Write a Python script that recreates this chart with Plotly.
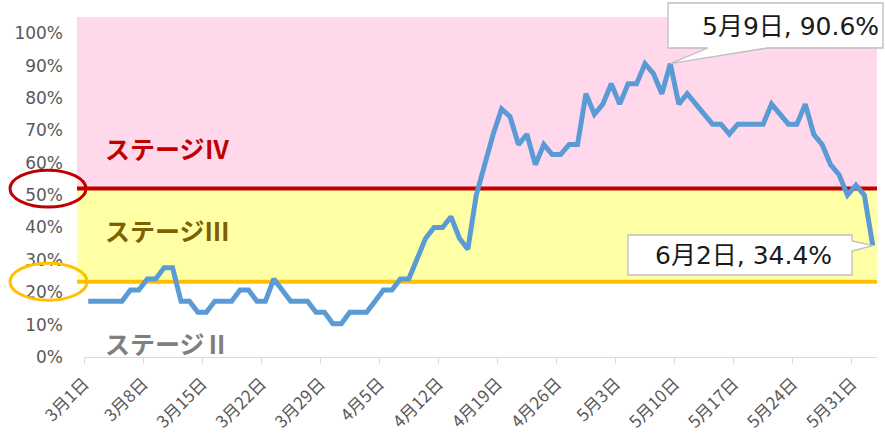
import pandas as pd
import plotly.graph_objects as go

# ---- data -------------------------------------------------------------
start_date = "2021-03-01"
end_date = "2021-06-02"
occupancy_pct = [
    17.2, 17.2, 17.2, 17.2, 17.2, 20.7, 20.7, 24.1, 24.1, 27.6,
    27.6, 17.2, 17.2, 13.8, 13.8, 17.2, 17.2, 17.2, 20.7, 20.7,
    17.2, 17.2, 24.1, 20.7, 17.2, 17.2, 17.2, 13.8, 13.8, 10.3,
    10.3, 13.8, 13.8, 13.8, 17.2, 20.7, 20.7, 24.1, 24.1, 30.0,
    36.7, 40.0, 40.0, 43.3, 36.7, 33.3, 50.0, 59.4, 68.8, 76.6,
    74.2, 65.6, 68.8, 59.4, 65.6, 62.5, 62.5, 65.6, 65.6, 81.3,
    75.0, 78.1, 84.4, 78.1, 84.4, 84.4, 90.6, 87.5, 81.3, 90.6,
    78.1, 81.3, 78.1, 75.0, 71.9, 71.9, 68.8, 71.9, 71.9, 71.9,
    71.9, 78.1, 75.0, 71.9, 71.9, 78.1, 68.8, 65.6, 59.4, 56.3,
    50.0, 53.1, 50.0, 34.4,
]
stage4_threshold = 0.52
stage3_threshold = 0.2326
stage_labels = ["ステージⅣ", "ステージⅢ", "ステージⅡ"]
stage_label_y = [0.647, 0.391, 0.042]
stage_colors = ["#C00000", "#7F6000", "#7F7F7F"]
callout_dates = ["2021-05-09", "2021-06-02"]

dates = pd.date_range(start_date, end_date, freq="D")
values = [v / 100 for v in occupancy_pct]
x_mid = dates + pd.Timedelta(hours=12)
tick_dates = pd.date_range(start_date, "2021-05-31", freq="7D")
tick_text = [f"{d.month}月{d.day}日" for d in tick_dates]

x_start = pd.Timestamp(start_date)
x_end = pd.Timestamp(end_date) + pd.Timedelta(days=1)
Y_MAX = 1.05

FONT = "DejaVu Sans, Noto Sans CJK JP, sans-serif"
JFONT = "Noto Sans CJK JP, sans-serif"

W, H = 885, 436
ML, MR, MT, MB = 84, 8, 17, 79
PW, PH = W - ML - MR, H - MT - MB


def px_x(p):
    return (p - ML) / PW


def px_y(p):
    return (H - MB - p) / PH


def data_to_paper(ts, v):
    fx = (ts - x_start) / (x_end - x_start)
    return fx, v / Y_MAX


fig = go.Figure()
fig.add_trace(go.Scatter(
    x=x_mid, y=values, mode="lines",
    line=dict(color="#5B9BD5", width=5),
    hoverinfo="skip", showlegend=False,
))

shapes = []
left_ext = px_x(77)
# background bands
shapes.append(dict(type="rect", xref="paper", yref="y", x0=left_ext, x1=1.0,
                   y0=stage4_threshold, y1=Y_MAX, fillcolor="#FFD9EB",
                   line=dict(width=0), layer="below"))
shapes.append(dict(type="rect", xref="paper", yref="y", x0=left_ext, x1=1.0,
                   y0=stage3_threshold, y1=stage4_threshold, fillcolor="#FFFFA6",
                   line=dict(width=0), layer="below"))
# threshold lines
shapes.append(dict(type="line", xref="paper", yref="y", x0=left_ext, x1=1.0,
                   y0=stage4_threshold, y1=stage4_threshold,
                   line=dict(color="#C00000", width=4), layer="below"))
shapes.append(dict(type="line", xref="paper", yref="y", x0=left_ext, x1=1.0,
                   y0=stage3_threshold, y1=stage3_threshold,
                   line=dict(color="#FFC000", width=4), layer="below"))
# ellipses round the tick labels
eh = 0.057
shapes.append(dict(type="circle", xref="paper", yref="y", x0=px_x(10), x1=px_x(86),
                   y0=stage4_threshold - eh, y1=stage4_threshold + eh,
                   line=dict(color="#C00000", width=3)))
shapes.append(dict(type="circle", xref="paper", yref="y", x0=px_x(10), x1=px_x(87),
                   y0=stage3_threshold - eh, y1=stage3_threshold + eh,
                   line=dict(color="#FFC000", width=3)))

# callout 1 (5/9)
i1 = list(dates).index(pd.Timestamp(callout_dates[0]))
tx, ty = data_to_paper(x_mid[i1], values[i1])
bx0, bx1, byt, byb = px_x(668), px_x(883), px_y(3), px_y(48)
a1, a2 = px_x(708), px_x(767)
shapes.append(dict(type="path", xref="paper", yref="paper",
                   path=f"M {bx0},{byb} L {a1},{byb} L {tx},{ty} L {a2},{byb} "
                        f"L {bx1},{byb} L {bx1},{byt} L {bx0},{byt} Z",
                   fillcolor="white", line=dict(color="#BFBFBF", width=1.3)))
# callout 2 (6/2)
i2 = list(dates).index(pd.Timestamp(callout_dates[1]))
tx2, ty2 = data_to_paper(x_mid[i2], values[i2])
cx0, cx1, cyt, cyb = px_x(628), px_x(852), px_y(235), px_y(275)
b1, b2 = px_y(241), px_y(251)
shapes.append(dict(type="path", xref="paper", yref="paper",
                   path=f"M {cx0},{cyt} L {cx1},{cyt} L {cx1},{b1} L {tx2},{ty2} "
                        f"L {cx1},{b2} L {cx1},{cyb} L {cx0},{cyb} Z",
                   fillcolor="white", line=dict(color="#BFBFBF", width=1.3)))

annotations = []
for lab, yy, col in zip(stage_labels, stage_label_y, stage_colors):
    annotations.append(dict(text=f"<b>{lab}</b>", xref="paper", yref="y",
                            x=px_x(103), y=yy, xanchor="left", yanchor="middle",
                            showarrow=False, font=dict(family=JFONT, size=25, color=col)))

d1 = dates[i1]
annotations.append(dict(text=f"{d1.month}月{d1.day}日, {occupancy_pct[i1]:.1f}%",
                        xref="paper", yref="paper", x=px_x(790), y=px_y(26),
                        xanchor="center", yanchor="middle", showarrow=False,
                        font=dict(family=FONT, size=25, color="#1A1A1A")))
d2 = dates[i2]
annotations.append(dict(text=f"{d2.month}月{d2.day}日, {occupancy_pct[i2]:.1f}%",
                        xref="paper", yref="paper", x=px_x(743), y=px_y(256),
                        xanchor="center", yanchor="middle", showarrow=False,
                        font=dict(family=FONT, size=25, color="#1A1A1A")))

fig.update_layout(
    width=W, height=H,
    margin=dict(l=ML, r=MR, t=MT, b=MB),
    plot_bgcolor="white", paper_bgcolor="white",
    shapes=shapes, annotations=annotations,
    font=dict(family=FONT, color="#595959"),
    xaxis=dict(type="date", range=[x_start, x_end], tickvals=tick_dates,
               ticktext=tick_text, tickangle=-45, showgrid=False,
               showline=True, linecolor="#D9D9D9", linewidth=1.3,
               ticks="outside", ticklen=6, tickcolor="#D9D9D9",
               ticklabelstandoff=3,
               tickfont=dict(size=17, color="#595959", family=JFONT),
               zeroline=False, automargin=False),
    yaxis=dict(range=[0, Y_MAX], tickvals=[i / 10 for i in range(11)],
               tickformat=".0%", showgrid=False, showline=False, zeroline=False,
               ticks="", ticklabelstandoff=20, automargin=False,
               tickfont=dict(size=17, color="#595959", family=FONT)),
)

fig.write_html("out.html", config={"displayModeBar": False},
               post_script="document.body.style.margin='0px';"
                           "document.body.style.padding='0px';")
